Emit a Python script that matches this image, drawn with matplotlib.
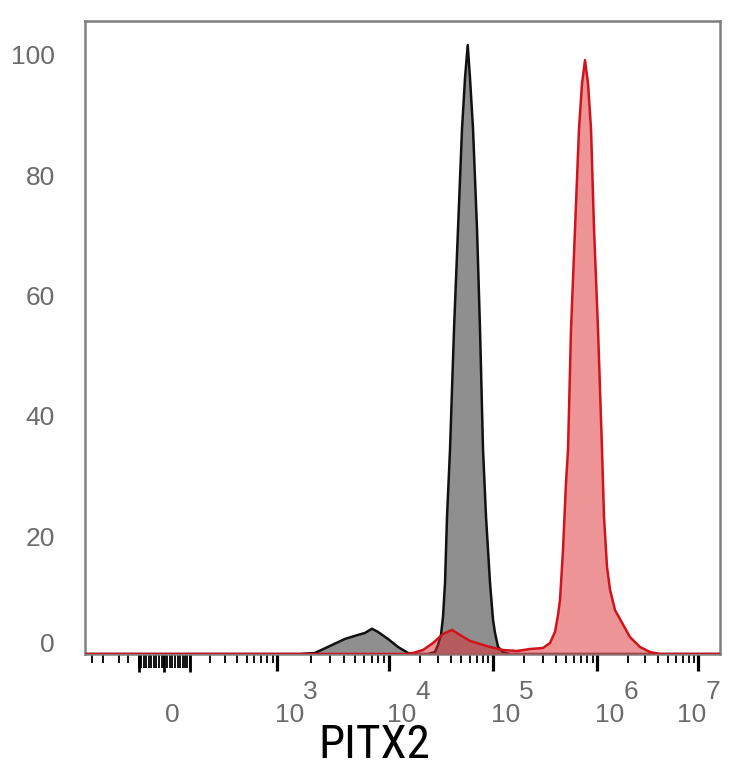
import numpy as np
import matplotlib
matplotlib.use("Agg")
import matplotlib.pyplot as plt
from matplotlib.transforms import ScaledTranslation
from matplotlib.ticker import FixedLocator, NullFormatter
from matplotlib import font_manager as fm

# ---------------- data ----------------
# fluorescence intensity (PITX2) and % of max
gray_x = [-450, 1597, 2175, 2964, 4037, 5279, 6098, 7043, 7970, 9795, 12213,
          15247, 19045, 23774, 27768, 29687, 31725, 33168, 34674, 36251, 38748,
          42352, 46285, 50582, 54058, 57409, 60400, 64565, 70551, 75420, 80640,
          86190, 94190, 100660, 105200, 112370, 125410, 146370, 1.6e7]
gray_y = [0, 0, 0.17, 1.33, 2.5, 3.17, 3.5, 4.2, 3.67, 2.5, 1.17,
          0.17, 0, 0, 0.33, 1.5, 3.2, 6.2, 11.8, 22.8, 34,
          54, 70.7, 87.3, 95.7, 101.2, 95.7, 87.3, 70.7, 54, 34,
          22.8, 11.8, 5.7, 3.5, 1.2, 0.3, 0, 0]

red_x = [-450, 14265, 17034, 21274, 26567, 33168, 40502, 48385, 60400, 75420,
         94190, 125410, 170750, 227300, 302600, 352900, 394000, 421000, 440000,
         470000, 502000, 524800, 560500, 612100, 668400, 714100, 762900, 815100,
         870700, 930100, 1016000, 1113000, 1165000, 1247000, 1336000, 1497000,
         1757000, 2108000, 2647000, 3325000, 4176000, 1.6e7]
red_y = [0, 0, 0.17, 0.67, 1.83, 3.33, 4.0, 3.17, 2.17, 1.67,
         1.17, 0.67, 0.5, 0.83, 1.0, 1.83, 3.67, 6.5, 9.0,
         17.3, 28.5, 34, 54, 70.7, 87.3, 94.8, 98.7, 94.8,
         87.3, 70.7, 54, 34, 22.8, 14.5, 10.7, 7.3,
         5.2, 2.8, 1.17, 0.33, 0, 0]

y_ticks = [0, 20, 40, 60, 80, 100]
x_major = [1e3, 1e4, 1e5, 1e6, 1e7]
x_exponents = ["3", "4", "5", "6", "7"]
x_minor = [-400, -300, -200, -150] + [v * 100 for v in range(2, 10)] + \
          [k * 10 ** d for d in range(3, 7) for k in range(2, 10)]
x_cluster = [v * 10 for v in range(-10, 11)]
x_cluster_long = [-100, 0, 100]
x_label = "PITX2"

# ---------------- axis scale (biexponential-like display) ----------------
W, H = 734, 768
LIN = 171.0
scale_x = np.array([0, 1e3, 1e4, 1e5, 1e6, 1e7])
scale_p = np.array([164.3, 277.3, 389.0, 492.7, 597.3, 698.3])


def _g(x):
    return np.arcsinh(np.asarray(x, float) / LIN) / np.log(10)


_gg = _g(scale_x)
_gg = np.concatenate([[_gg[0] - 10 * (_gg[1] - _gg[0])], _gg,
                      [_gg[-1] + 10 * (_gg[-1] - _gg[-2])]])
_pp = np.concatenate([[scale_p[0] - 10 * (scale_p[1] - scale_p[0])], scale_p,
                      [scale_p[-1] + 10 * (scale_p[-1] - scale_p[-2])]])


def fwd(x):
    return np.interp(_g(x), _gg, _pp)


def inv(p):
    g = np.interp(np.asarray(p, float), _pp, _gg)
    return LIN * np.sinh(g * np.log(10))


# ---------------- figure ----------------
fig = plt.figure(figsize=(W / 100, H / 100), dpi=100)
ax = fig.add_axes([85 / W, 1 - 654 / H, 635 / W, 633 / H])
ax.set_xscale("function", functions=(fwd, inv))
ax.set_xlim(-468, 1.64e7)
ax.set_ylim(0, 105.2)

ax.fill_between(gray_x, gray_y, 0, color="#8f8f8f", lw=0, zorder=1)
ax.plot(gray_x, gray_y, color="#111111", lw=1.8, zorder=2)
ax.fill_between(red_x, red_y, 0, color="#dd2a2f", alpha=0.5, lw=0, zorder=3)
ax.plot(red_x, red_y, color="#d0141c", lw=1.8, zorder=4)

for s in ax.spines.values():
    s.set_color("#7f7f7f")
    s.set_linewidth(1.8)

ax.xaxis.set_major_locator(FixedLocator(x_major))
ax.xaxis.set_minor_locator(FixedLocator(x_minor))
ax.xaxis.set_major_formatter(NullFormatter())
ax.xaxis.set_minor_formatter(NullFormatter())
ax.tick_params(axis="x", which="major", direction="out", length=12, width=2.3,
               color="black")
ax.tick_params(axis="x", which="minor", direction="out", length=6.5, width=1.3,
               color="black")
ax.set_yticks([])

xt = ax.get_xaxis_transform()
ax_h = 633.0
ax.vlines(x_cluster, -14 / ax_h, 0, transform=xt, clip_on=False,
          colors="black", lw=1.3)
ax.vlines(x_cluster_long, -18 / ax_h, 0, transform=xt, clip_on=False,
          colors="black", lw=2.0)


def off(dx, dy):
    return ScaledTranslation(dx / 100, dy / 100, fig.dpi_scale_trans)


lab_font = dict(family=["Liberation Sans", "DejaVu Sans"], size=19,
                color="#6b6b6b")

# y labels
yt = ax.get_yaxis_transform()
for v in y_ticks:
    dy = 2 if v == 0 else -12
    ax.text(0, v, str(v), transform=yt + off(-30, dy), ha="right",
            va="baseline", **lab_font)

# x labels
ax.text(0, 0, "0", transform=xt + off(8, -68), ha="center", va="baseline",
        **lab_font)
for v, e in zip(x_major, x_exponents):
    shift = -19 if e == "7" else 0
    ax.text(v, 0, "10", transform=xt + off(-2 + shift, -68), ha="left",
            va="baseline", **lab_font)
    ax.text(v, 0, e, transform=xt + off(26 + shift, -45), ha="left",
            va="baseline", **lab_font)

# axis title: prefer a narrow sans face if one is installed
narrow = None
for f in fm.fontManager.ttflist:
    key = (f.name + " " + f.fname).lower()
    if ("narrow" in key or "condensed" in key) and f.style == "normal" \
            and f.weight in (400, "normal", "regular") and "bold" not in key \
            and "light" not in key and "italic" not in key:
        narrow = f.fname
        if "liberation" in key:
            break
if narrow is not None:
    title_prop = fm.FontProperties(fname=narrow, size=34)
else:
    title_prop = fm.FontProperties(family=["Liberation Sans", "DejaVu Sans"],
                                   size=30)
t = fig.text(374 / W, 1 - 758 / H, x_label, ha="center", va="baseline",
             fontproperties=title_prop, color="black")
# keep the title about as wide as the reference (~110 px)
fig.canvas.draw()
w = t.get_window_extent().width
if w > 0:
    title_prop.set_size(title_prop.get_size() * min(1.0, 112.0 / w))
    t.set_fontproperties(title_prop)

fig.savefig("out.png", dpi=100, facecolor="white")
